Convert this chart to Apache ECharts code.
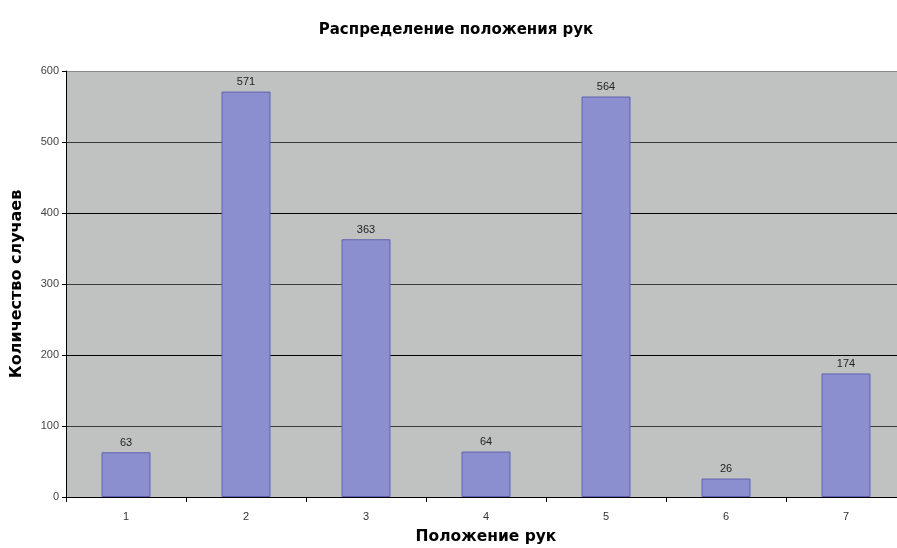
<!DOCTYPE html>
<html>
<head>
<meta charset="utf-8">
<script src="https://cdn.jsdelivr.net/npm/echarts@6/dist/echarts.min.js"></script>
<style>
  html, body { margin: 0; padding: 0; background: #fff; }
  #chart { width: 897px; height: 548px; }
</style>
</head>
<body>
<div id="chart"></div>
<script>
const categories = ['1', '2', '3', '4', '5', '6', '7'];
const counts = [63, 571, 363, 64, 564, 26, 174];

const myChart = echarts.init(document.getElementById('chart'));

// heavy Arial-like bold for titles
const boldFont = 'DejaVu Sans, Liberation Sans, sans-serif';

const option = {
    animation: false,
    textStyle: { fontFamily: 'Liberation Sans, Arial, sans-serif' },
    title: {
        text: 'Распределение положения рук',
        left: 451,
        textAlign: 'center',
        top: 18,
        textStyle: { fontSize: 15, fontWeight: 'bold', color: '#000', fontFamily: boldFont }
    },
    grid: {
        left: 66,
        width: 840,
        top: 71,
        height: 426,
        outerBoundsMode: 'none',
        show: true,
        backgroundColor: '#c0c2c1',
        borderWidth: 0
    },
    xAxis: {
        type: 'category',
        data: categories,
        name: 'Положение рук',
        nameLocation: 'middle',
        nameGap: 32,
        nameTextStyle: { fontSize: 15.5, fontWeight: 'bold', color: '#000', fontFamily: boldFont },
        axisLine: { lineStyle: { color: '#000', width: 1 } },
        axisTick: { show: true, length: 5, lineStyle: { color: '#000' } },
        axisLabel: { fontSize: 11, color: '#333', margin: 14 }
    },
    yAxis: {
        type: 'value',
        min: 0,
        max: 600,
        interval: 100,
        name: 'Количество случаев',
        nameLocation: 'middle',
        nameGap: 41,
        nameTextStyle: { fontSize: 16, fontWeight: 'bold', color: '#000', fontFamily: boldFont },
        axisLine: { show: true, lineStyle: { color: '#000', width: 1 } },
        axisTick: { show: true, length: 4, lineStyle: { color: '#000' } },
        axisLabel: { fontSize: 11, color: '#444', margin: 7 },
        splitLine: {
            lineStyle: {
                color: ['#000', '#3a3a3a', '#000', '#3a3a3a', '#000', '#3a3a3a', '#8a8a8a'],
                width: 1
            }
        }
    },
    series: [
        {
            name: 'Количество случаев',
            type: 'bar',
            data: counts,
            barWidth: 49,
            itemStyle: {
                color: '#8c8fcf',
                borderColor: '#5f62b0',
                borderWidth: 1
            },
            label: {
                show: true,
                position: 'top',
                distance: 4,
                fontSize: 11,
                color: '#222'
            }
        }
    ]
};

myChart.setOption(option);

window.addEventListener('resize', () => {
    myChart.resize();
});
</script>
</body>
</html>
